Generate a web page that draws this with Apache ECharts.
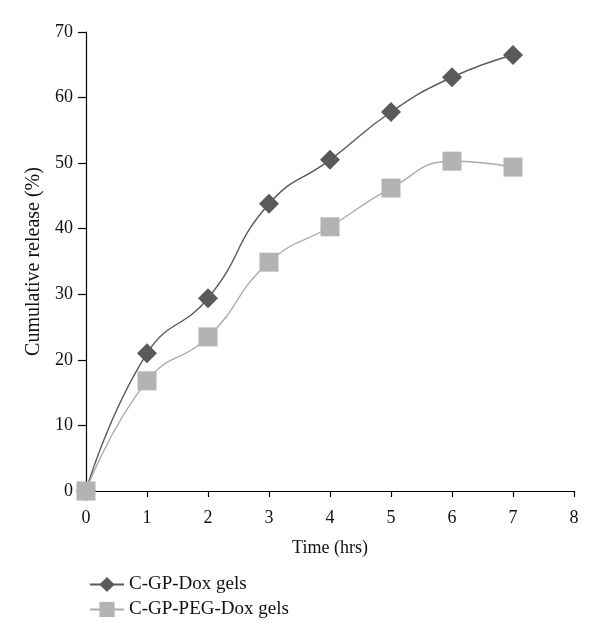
<!DOCTYPE html>
<html><head><meta charset="utf-8">
<script src="https://cdn.jsdelivr.net/npm/echarts@6/dist/echarts.min.js"></script>
<style>html,body{margin:0;padding:0;background:#fff}#c{width:600px;height:640px}</style>
</head><body><div id="c"></div>
<script>
const timeHrs = [0, 1, 2, 3, 4, 5, 6, 7];
const dox = [0, 21.0, 29.4, 43.8, 50.5, 57.8, 63.1, 66.5];
const pegDox = [0, 16.8, 23.5, 34.9, 40.3, 46.2, 50.3, 49.4];
const seriesNames = ['C-GP-Dox gels', 'C-GP-PEG-Dox gels'];

const font = 'Liberation Serif';
const chart = echarts.init(document.getElementById('c'), null, {renderer: 'canvas'});
chart.setOption({
  animation: false,
  textStyle: {fontFamily: font},
  grid: {left: 86, right: 26, top: 32, bottom: 149, containLabel: false},
  legend: {
    orient: 'vertical', left: 84, top: 570, itemGap: 6,
    itemWidth: 34, itemHeight: 19,
    textStyle: {fontFamily: font, fontSize: 19, color: '#111'},
    data: seriesNames
  },
  xAxis: {
    type: 'value', min: 0, max: 8, interval: 1,
    name: 'Time (hrs)', nameLocation: 'middle', nameGap: 48,
    nameTextStyle: {fontFamily: font, fontSize: 18, color: '#111'},
    axisLine: {show: true, lineStyle: {color: '#000', width: 1.2}},
    axisTick: {show: true, length: 6, lineStyle: {color: '#000', width: 1.2}},
    axisLabel: {fontFamily: font, fontSize: 18, color: '#111', margin: 18},
    splitLine: {show: false}
  },
  yAxis: {
    type: 'value', min: 0, max: 70, interval: 10,
    name: 'Cumulative release (%)', nameLocation: 'middle', nameGap: 42, nameRotate: 90,
    nameTextStyle: {fontFamily: font, fontSize: 20, color: '#111'},
    axisLine: {show: true, lineStyle: {color: '#000', width: 1.2}},
    axisTick: {show: true, length: 8, lineStyle: {color: '#000', width: 1.2}},
    axisLabel: {fontFamily: font, fontSize: 18, color: '#111', margin: 13},
    splitLine: {show: false}
  },
  series: [
    {
      name: seriesNames[0], type: 'line', smooth: 0.5,
      data: timeHrs.map((t, i) => [t, dox[i]]),
      symbol: 'diamond', symbolSize: 20,
      itemStyle: {color: '#5a5a5a'},
      lineStyle: {color: '#5a5a5a', width: 1.4},
      z: 3
    },
    {
      name: seriesNames[1], type: 'line', smooth: 0.5,
      data: timeHrs.map((t, i) => [t, pegDox[i]]),
      symbol: 'rect', symbolSize: 19,
      itemStyle: {color: '#b3b3b3'},
      lineStyle: {color: '#aaaaaa', width: 1.4},
      z: 4
    }
  ]
});
</script></body></html>
